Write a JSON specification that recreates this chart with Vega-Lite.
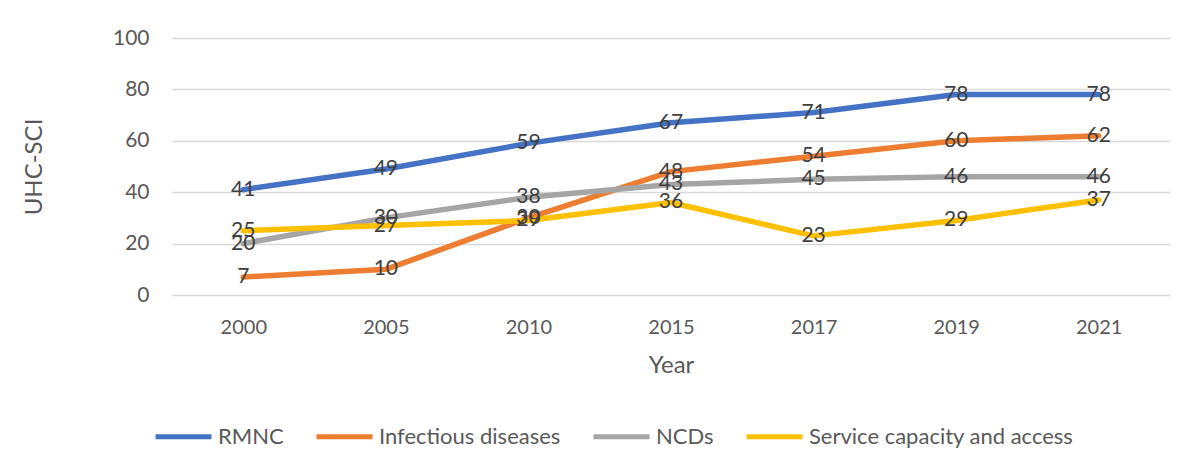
{
  "$schema": "https://vega.github.io/schema/vega-lite/v6.json",
  "autosize": "none",
  "width": 998,
  "height": 257,
  "padding": {"left": 172, "top": 38, "right": 32, "bottom": 173},
  "background": "white",
  "config": {
    "view": {"stroke": null},
    "font": "Lato"
  },
  "data": {
    "values": [
      {"Year": "2000", "Series": "RMNC", "Value": 41},
      {"Year": "2005", "Series": "RMNC", "Value": 49},
      {"Year": "2010", "Series": "RMNC", "Value": 59},
      {"Year": "2015", "Series": "RMNC", "Value": 67},
      {"Year": "2017", "Series": "RMNC", "Value": 71},
      {"Year": "2019", "Series": "RMNC", "Value": 78},
      {"Year": "2021", "Series": "RMNC", "Value": 78},
      {"Year": "2000", "Series": "Infectious diseases", "Value": 7},
      {"Year": "2005", "Series": "Infectious diseases", "Value": 10},
      {"Year": "2010", "Series": "Infectious diseases", "Value": 30},
      {"Year": "2015", "Series": "Infectious diseases", "Value": 48},
      {"Year": "2017", "Series": "Infectious diseases", "Value": 54},
      {"Year": "2019", "Series": "Infectious diseases", "Value": 60},
      {"Year": "2021", "Series": "Infectious diseases", "Value": 62},
      {"Year": "2000", "Series": "NCDs", "Value": 20},
      {"Year": "2005", "Series": "NCDs", "Value": 30},
      {"Year": "2010", "Series": "NCDs", "Value": 38},
      {"Year": "2015", "Series": "NCDs", "Value": 43},
      {"Year": "2017", "Series": "NCDs", "Value": 45},
      {"Year": "2019", "Series": "NCDs", "Value": 46},
      {"Year": "2021", "Series": "NCDs", "Value": 46},
      {"Year": "2000", "Series": "Service capacity and access", "Value": 25},
      {"Year": "2005", "Series": "Service capacity and access", "Value": 27},
      {"Year": "2010", "Series": "Service capacity and access", "Value": 29},
      {"Year": "2015", "Series": "Service capacity and access", "Value": 36},
      {"Year": "2017", "Series": "Service capacity and access", "Value": 23},
      {"Year": "2019", "Series": "Service capacity and access", "Value": 29},
      {"Year": "2021", "Series": "Service capacity and access", "Value": 37}
    ]
  },
  "encoding": {
    "x": {
      "field": "Year",
      "type": "ordinal",
      "scale": {"type": "point", "padding": 0.5},
      "axis": {
        "title": "Year",
        "labelAngle": 0,
        "ticks": false,
        "tickSize": 0,
        "domain": false,
        "labelPadding": 22,
        "labelFontSize": 20,
        "labelColor": "#595959",
        "titleFontSize": 24,
        "titleFontWeight": "normal",
        "titleColor": "#595959",
        "titlePadding": 16
      }
    },
    "y": {
      "field": "Value",
      "type": "quantitative",
      "scale": {"domain": [0, 100], "nice": false},
      "axis": {
        "title": "UHC-SCI",
        "values": [0, 20, 40, 60, 80, 100],
        "ticks": false,
        "tickSize": 0,
        "domain": false,
        "grid": true,
        "gridColor": "#d9d9d9",
        "gridWidth": 1.5,
        "labelPadding": 23,
        "labelFontSize": 21,
        "labelColor": "#595959",
        "titleFontSize": 24,
        "titleFontWeight": "normal",
        "titleColor": "#595959",
        "titlePadding": 66
      }
    }
  },
  "layer": [
    {
      "mark": {"type": "line", "strokeWidth": 5.5, "strokeCap": "round", "strokeJoin": "round"},
      "encoding": {
        "color": {
          "field": "Series",
          "type": "nominal",
          "sort": ["RMNC", "Infectious diseases", "NCDs", "Service capacity and access"],
          "scale": {
            "domain": ["RMNC", "Infectious diseases", "NCDs", "Service capacity and access"],
            "range": ["#4472C4", "#ED7D31", "#A5A5A5", "#FFC000"]
          },
          "legend": {
            "title": null,
            "orient": "none",
            "direction": "horizontal",
            "legendX": -19,
            "legendY": 368,
            "symbolType": "stroke",
            "symbolSize": 3136,
            "symbolStrokeWidth": 5,
            "labelFontSize": 22,
            "labelColor": "#595959",
            "labelOffset": 4,
            "columnPadding": 22,
            "labelLimit": 400
          }
        }
      }
    },
    {
      "mark": {"type": "text", "fontSize": 21, "color": "#404040", "baseline": "middle", "align": "center"},
      "encoding": {
        "text": {"field": "Value", "type": "quantitative"}
      }
    }
  ]
}
